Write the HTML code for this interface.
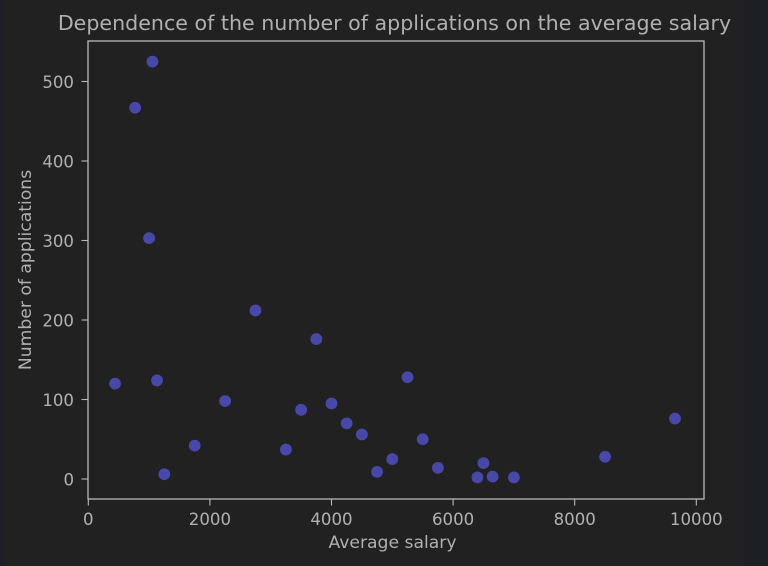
<!DOCTYPE html>
<html>
<head>
<meta charset="utf-8">
<style>
html,body{margin:0;padding:0;width:768px;height:566px;overflow:hidden;background:#212121;}
svg{display:block;position:absolute;left:0;top:0;}
text{font-family:"DejaVu Sans",sans-serif;fill:#b0b0b0;}
#plot-layer{filter:blur(0.35px);}
</style>
</head>
<body>
<svg id="chart" width="768" height="566" viewBox="0 0 768 566">
<rect x="0" y="0" width="768" height="566" fill="#212121"/>
<rect x="0" y="0" width="4" height="566" fill="#1c1f24"/>
<rect x="744" y="0" width="24" height="566" fill="#1c1f24"/>
<g id="plot-layer">
<text x="394.5" y="30" font-size="20.6" text-anchor="middle">Dependence of the number of applications on the average salary</text>
<text x="392.5" y="548" font-size="17.2" text-anchor="middle">Average salary</text>
<text transform="translate(31,270) rotate(-90)" font-size="17.2" text-anchor="middle">Number of applications</text>
<g id="points"></g>
<g id="ticks"></g>
<rect x="88" y="41" width="616" height="458" fill="none" stroke="#b8b8b8" stroke-width="1.3"/>
</g>
</svg>
<script>
const salaries = [440, 770, 1055, 1000, 1130, 1250, 1750, 2250, 2750, 3250, 3500, 3750, 4000, 4250, 4500, 4750, 5000, 5250, 5500, 5750, 6400, 6500, 6650, 7000, 8500, 9650];
const applications = [120, 467, 525, 303, 124, 6, 42, 98, 212, 37, 87, 176, 95, 70, 56, 9, 25, 128, 50, 14, 2, 20, 3, 2, 28, 76];
const xTickValues = [0, 2000, 4000, 6000, 8000, 10000];
const yTickValues = [0, 100, 200, 300, 400, 500];

const NS = 'http://www.w3.org/2000/svg';
function xScale(v) { return 88.3 + v * 0.0608; }
function yScale(v) { return 479 - v * 0.795; }

const pointsGroup = document.getElementById('points');
salaries.forEach(function (s, i) {
  const c = document.createElementNS(NS, 'circle');
  c.setAttribute('cx', xScale(s));
  c.setAttribute('cy', yScale(applications[i]));
  c.setAttribute('r', 5.9);
  c.setAttribute('fill', '#4848a8');
  
  
  pointsGroup.appendChild(c);
});

const ticksGroup = document.getElementById('ticks');
xTickValues.forEach(function (v) {
  const px = xScale(v);
  const l = document.createElementNS(NS, 'line');
  l.setAttribute('x1', px);
  l.setAttribute('x2', px);
  l.setAttribute('y1', 499);
  l.setAttribute('y2', 505.5);
  l.setAttribute('stroke', '#b8b8b8');
  l.setAttribute('stroke-width', '1.1');
  
  
  ticksGroup.appendChild(l);
  const t = document.createElementNS(NS, 'text');
  t.setAttribute('x', px);
  t.setAttribute('y', 525);
  t.setAttribute('font-size', '16.6');
  t.setAttribute('text-anchor', 'middle');
  
  
  t.textContent = String(v);
  ticksGroup.appendChild(t);
});
yTickValues.forEach(function (v) {
  const py = yScale(v);
  const l = document.createElementNS(NS, 'line');
  l.setAttribute('x1', 81.5);
  l.setAttribute('x2', 88);
  l.setAttribute('y1', py);
  l.setAttribute('y2', py);
  l.setAttribute('stroke', '#b8b8b8');
  l.setAttribute('stroke-width', '1.1');
  
  
  ticksGroup.appendChild(l);
  const t = document.createElementNS(NS, 'text');
  t.setAttribute('x', 74);
  t.setAttribute('y', py + 6.5);
  t.setAttribute('font-size', '16.6');
  t.setAttribute('text-anchor', 'end');
  
  
  t.textContent = String(v);
  ticksGroup.appendChild(t);
});
</script>
</body>
</html>
